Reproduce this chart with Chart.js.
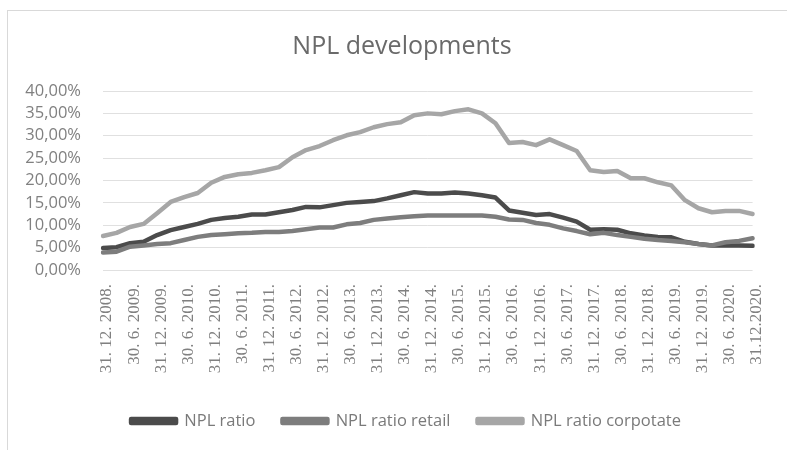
<!DOCTYPE html>
<html>
<head>
<meta charset="utf-8">
<script src="https://cdn.jsdelivr.net/npm/chart.js@4/dist/chart.umd.min.js"></script>
<style>
  html, body { margin: 0; padding: 0; background: #fff; }
  #wrap { position: relative; width: 787px; height: 450px; overflow: hidden; }
  #frame { position: absolute; left: 7px; top: 10px; width: 800px; height: 460px; border: 1px solid #d9d9d9; box-sizing: border-box; }
  #chart { position: absolute; left: 0; top: 0; }
</style>
</head>
<body>
<div id="wrap">
  <div id="frame"></div>
  <canvas id="chart" width="787" height="450"></canvas>
</div>
<script>
// quarter ends, only every second one is printed on the axis
const labels = [
  "31. 12. 2008.",
  "31. 3. 2009.", "30. 6. 2009.", "30. 9. 2009.", "31. 12. 2009.",
  "31. 3. 2010.", "30. 6. 2010.", "30. 9. 2010.", "31. 12. 2010.",
  "31. 3. 2011.", "30. 6. 2011.", "30. 9. 2011.", "31. 12. 2011.",
  "31. 3. 2012.", "30. 6. 2012.", "30. 9. 2012.", "31. 12. 2012.",
  "31. 3. 2013.", "30. 6. 2013.", "30. 9. 2013.", "31. 12. 2013.",
  "31. 3. 2014.", "30. 6. 2014.", "30. 9. 2014.", "31. 12. 2014.",
  "31. 3. 2015.", "30. 6. 2015.", "30. 9. 2015.", "31. 12. 2015.",
  "31. 3. 2016.", "30. 6. 2016.", "30. 9. 2016.", "31. 12. 2016.",
  "31. 3. 2017.", "30. 6. 2017.", "30. 9. 2017.", "31. 12. 2017.",
  "31. 3. 2018.", "30. 6. 2018.", "30. 9. 2018.", "31. 12. 2018.",
  "31. 3. 2019.", "30. 6. 2019.", "30. 9. 2019.", "31. 12. 2019.",
  "31. 3. 2020.", "30. 6. 2020.", "30. 9. 2020.", "31.12.2020."
];

// values in %
const nplRatio = [4.9,5.1,6.0,6.3,7.8,8.9,9.6,10.3,11.2,11.6,11.9,12.4,12.4,12.9,13.4,14.1,14.0,14.5,15.0,15.2,15.4,16.0,16.7,17.4,17.1,17.1,17.3,17.1,16.7,16.2,13.3,12.8,12.3,12.5,11.7,10.8,9.0,9.1,9.0,8.2,7.7,7.4,7.3,6.3,5.8,5.5,5.5,5.5,5.4];
const nplRetail = [3.9,4.1,5.2,5.5,5.8,6.0,6.7,7.4,7.8,8.0,8.2,8.3,8.5,8.5,8.7,9.1,9.5,9.5,10.2,10.5,11.2,11.5,11.8,12.0,12.2,12.2,12.2,12.2,12.2,11.9,11.3,11.2,10.5,10.1,9.3,8.7,8.0,8.3,7.8,7.4,7.0,6.7,6.5,6.2,5.8,5.5,6.2,6.5,7.1];
const nplCorporate = [7.6,8.3,9.6,10.3,12.7,15.2,16.3,17.2,19.5,20.8,21.4,21.7,22.3,23.0,25.2,26.8,27.7,29.0,30.1,30.8,31.9,32.6,33.0,34.6,35.0,34.8,35.5,35.9,35.0,32.8,28.4,28.6,27.9,29.2,27.9,26.6,22.3,21.9,22.1,20.5,20.5,19.6,18.9,15.6,13.8,12.9,13.2,13.2,12.5];

const seriesNames = ["NPL ratio", "NPL ratio retail", "NPL ratio corpotate"];
const colors = ["#4b4b4b", "#7d7d7d", "#a6a6a6"];

const fontFamily = "'Open Sans', 'Noto Sans', sans-serif";
const serifFamily = "'Liberation Serif', 'DejaVu Serif', serif";

function makeSet(i, data) {
  return {
    label: seriesNames[i],
    data: data,
    borderColor: colors[i],
    backgroundColor: colors[i],
    borderWidth: 4.5,
    borderJoinStyle: "round",
    borderCapStyle: "round",
    pointRadius: 0,
    tension: 0,
    order: 3 - i
  };
}

// title and legend sit centred on the whole frame, a bit right of the canvas centre
const shiftBoxes = {
  id: "shiftBoxes",
  afterLayout(chart) {
    if (chart.titleBlock) chart.titleBlock.left = 36;
    if (chart.legend) chart.legend.left = 44;
  }
};

new Chart(document.getElementById("chart"), {
  type: "line",
  data: {
    labels: labels,
    datasets: [makeSet(0, nplRatio), makeSet(1, nplRetail), makeSet(2, nplCorporate)]
  },
  plugins: [shiftBoxes],
  options: {
    responsive: false,
    animation: false,
    layout: { padding: { left: 0, right: 19, top: 20, bottom: 10.75 } },
    plugins: {
      title: {
        display: true,
        text: "NPL developments",
        color: "#6a6a6a",
        font: { family: fontFamily, size: 25, weight: "normal" },
        padding: { top: 12, bottom: 29 }
      },
      legend: {
        position: "bottom",
        labels: {
          color: "#7a7a7a",
          font: { family: fontFamily, size: 16.5 },
          boxWidth: 45,
          boxHeight: 4,
          padding: 27,
          sort: (a, b) => a.datasetIndex - b.datasetIndex
        }
      },
      tooltip: { enabled: false }
    },
    scales: {
      x: {
        grid: { display: false, drawTicks: false },
        border: { display: false },
        ticks: {
          autoSkip: false,
          maxRotation: 90,
          minRotation: 90,
          padding: 14,
          labelOffset: 4,
          color: "#808080",
          font: { family: serifFamily, size: 17 },
          callback: function (v, i) { return i % 2 === 0 ? labels[i] : ""; }
        },
        afterFit: (axis) => { axis.height = 115.75; }
      },
      y: {
        min: 0,
        max: 40,
        grid: { color: "#e0e0e0", lineWidth: 1, drawTicks: false },
        border: { display: false },
        ticks: {
          stepSize: 5,
          autoSkip: false,
          padding: 22,
          color: "#808080",
          font: { family: fontFamily, size: 16.5 },
          callback: (v) => v.toFixed(2).replace(".", ",") + "%"
        },
        afterFit: (axis) => { axis.width = 103; }
      }
    }
  }
});
</script>
</body>
</html>
